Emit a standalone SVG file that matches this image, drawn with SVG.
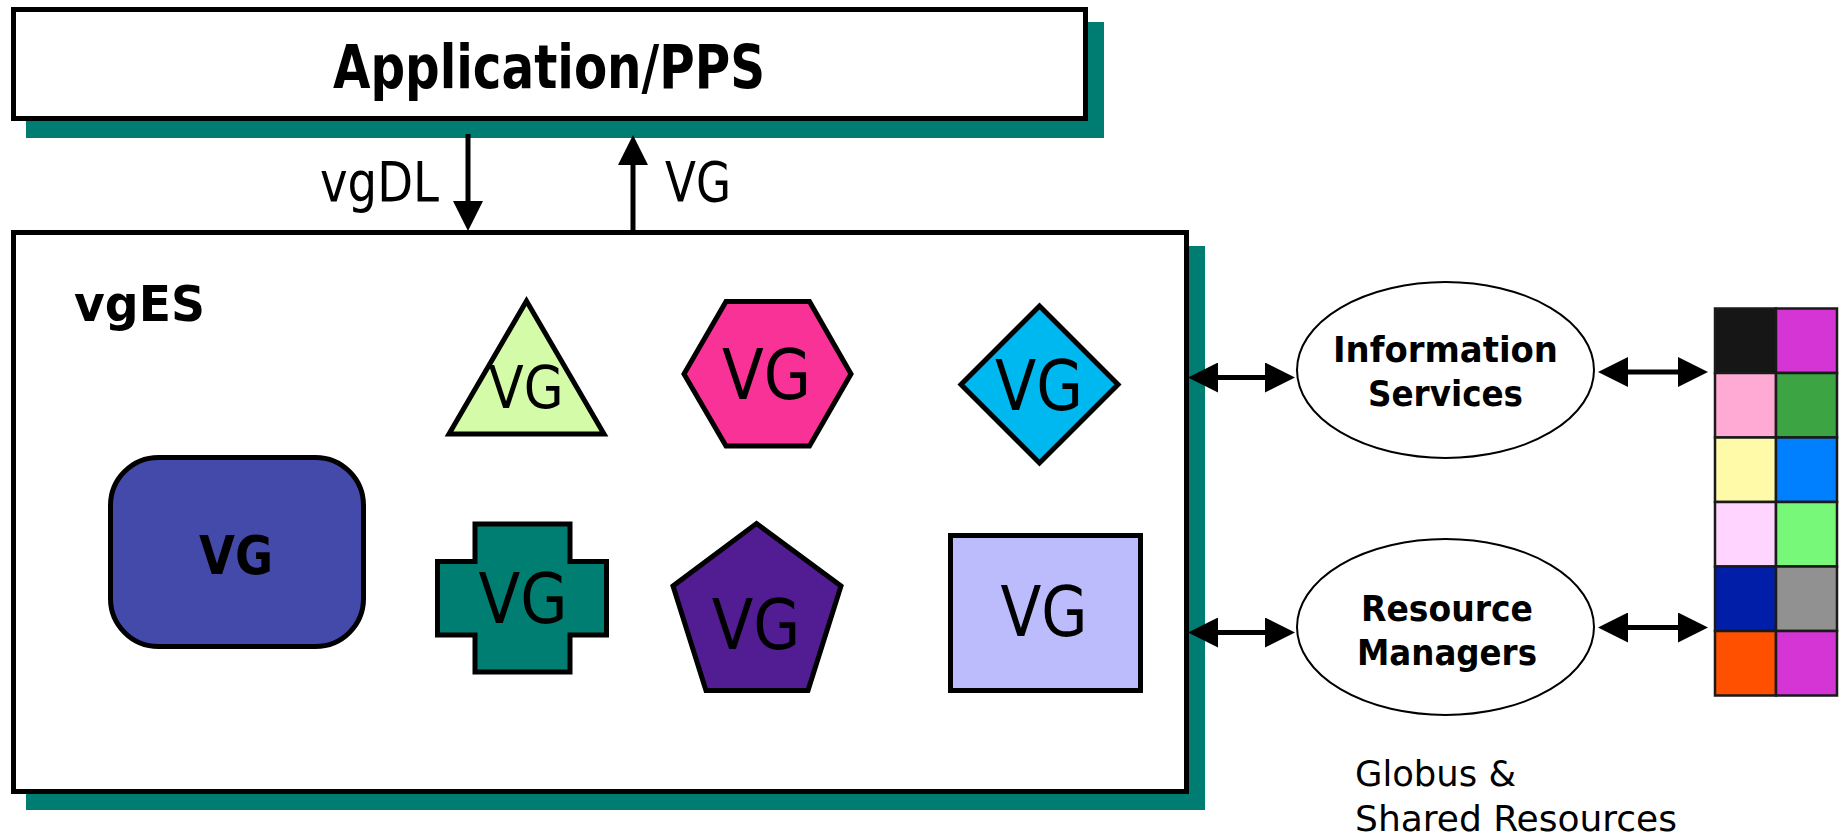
<svg xmlns="http://www.w3.org/2000/svg" width="1843" height="837" viewBox="0 0 1843 837">
  <style>
    .shadow { fill: #007d73; }
    .frame { fill: #ffffff; stroke: #000000; stroke-width: 5; }
    .shape { stroke: #000000; stroke-width: 5; stroke-linejoin: miter; }
    .oval { fill: #ffffff; stroke: #000000; stroke-width: 2; }
    .cell { stroke: #1a1a1a; stroke-width: 2.5; }
    .txt { font-family: "DejaVu Sans Condensed", "DejaVu Sans", sans-serif; font-stretch: condensed; fill: #000000; }
    .b { font-weight: bold; }
    .mid { text-anchor: middle; }
    .conn { stroke: #000000; stroke-width: 5; fill: none; }
  </style>
  <defs>
    <marker id="head" markerUnits="userSpaceOnUse" markerWidth="30" markerHeight="30" refX="10" refY="15" orient="auto-start-reverse">
      <path d="M0,0 L30,15 L0,30 Z" fill="#000000"/>
    </marker>
  </defs>

  <rect width="1843" height="837" fill="#ffffff"/>

  <!-- application layer -->
  <g id="app">
    <rect class="shadow" x="26" y="22" width="1078" height="116"/>
    <rect class="frame" x="13.5" y="9.5" width="1072" height="109"/>
    <text class="txt b mid" x="549" y="88" font-size="61" textLength="432" lengthAdjust="spacingAndGlyphs">Application/PPS</text>
  </g>

  <!-- execution system container -->
  <g id="vges">
    <rect class="shadow" x="26" y="246" width="1179" height="564"/>
    <rect class="frame" x="13.5" y="232.5" width="1173" height="559"/>
    <text class="txt b" x="74" y="320.5" font-size="50" textLength="131" lengthAdjust="spacingAndGlyphs">vgES</text>
  </g>

  <g id="vg-rounded">
    <rect class="shape" x="110.5" y="457.5" width="253" height="189" rx="48" ry="48" fill="#444aaa"/>
    <text class="txt b mid" x="236" y="573.5" font-size="53" textLength="74" lengthAdjust="spacingAndGlyphs">VG</text>
  </g>

  <g id="vg-triangle">
    <polygon class="shape" points="526.5,301 604,434 449,434" fill="#d4fca8"/>
    <text class="txt mid" x="526" y="408" font-size="58" textLength="75" lengthAdjust="spacingAndGlyphs">VG</text>
  </g>

  <g id="vg-hexagon">
    <polygon class="shape" points="684,374 726,301.5 809.5,301.5 851,374 809.5,446 726,446" fill="#f83296"/>
    <text class="txt mid" x="766.5" y="398.5" font-size="70" textLength="89" lengthAdjust="spacingAndGlyphs">VG</text>
  </g>

  <g id="vg-diamond">
    <polygon class="shape" points="1039.5,306 1118,384.5 1039.5,463 961,384.5" fill="#00b8f0"/>
    <text class="txt mid" x="1039" y="410" font-size="70" textLength="88" lengthAdjust="spacingAndGlyphs">VG</text>
  </g>

  <g id="vg-cross">
    <polygon class="shape" points="475,524 570,524 570,561.5 606.5,561.5 606.5,635 570,635 570,672 475,672 475,635 437.5,635 437.5,561.5 475,561.5" fill="#007e72"/>
    <text class="txt mid" x="523" y="623" font-size="70" textLength="89" lengthAdjust="spacingAndGlyphs">VG</text>
  </g>

  <g id="vg-pentagon">
    <polygon class="shape" points="756.5,523.5 841,586 808,690.5 706,690.5 673,586" fill="#521c92"/>
    <text class="txt mid" x="756" y="648.5" font-size="70" textLength="88.5" lengthAdjust="spacingAndGlyphs">VG</text>
  </g>

  <g id="vg-rect">
    <rect class="shape" x="950.5" y="535.5" width="190" height="155" fill="#bcbcfc"/>
    <text class="txt mid" x="1044" y="636" font-size="70" textLength="87" lengthAdjust="spacingAndGlyphs">VG</text>
  </g>

  <g id="info-services">
    <ellipse class="oval" cx="1445.5" cy="370" rx="148.5" ry="88"/>
    <text class="txt b mid" x="1445.5" y="362" font-size="36" textLength="225" lengthAdjust="spacingAndGlyphs">Information</text>
    <text class="txt b mid" x="1445.5" y="406" font-size="36" textLength="155" lengthAdjust="spacingAndGlyphs">Services</text>
  </g>

  <g id="resource-managers">
    <ellipse class="oval" cx="1445.5" cy="627" rx="148.5" ry="88"/>
    <text class="txt b mid" x="1447" y="620.5" font-size="36" textLength="172" lengthAdjust="spacingAndGlyphs">Resource</text>
    <text class="txt b mid" x="1447" y="665" font-size="36" textLength="180" lengthAdjust="spacingAndGlyphs">Managers</text>
  </g>

  <!-- shared resource pool -->
  <g id="resources">
    <rect class="cell" x="1715" y="308.5" width="61" height="64.5" fill="#161616"/>
    <rect class="cell" x="1776" y="308.5" width="61" height="64.5" fill="#d535d5"/>
    <rect class="cell" x="1715" y="373" width="61" height="64.5" fill="#ffaad4"/>
    <rect class="cell" x="1776" y="373" width="61" height="64.5" fill="#3ca443"/>
    <rect class="cell" x="1715" y="437.5" width="61" height="64.5" fill="#fffaa8"/>
    <rect class="cell" x="1776" y="437.5" width="61" height="64.5" fill="#0080ff"/>
    <rect class="cell" x="1715" y="502" width="61" height="64.5" fill="#ffd5ff"/>
    <rect class="cell" x="1776" y="502" width="61" height="64.5" fill="#78f878"/>
    <rect class="cell" x="1715" y="566.5" width="61" height="64.5" fill="#001ea8"/>
    <rect class="cell" x="1776" y="566.5" width="61" height="64.5" fill="#919191"/>
    <rect class="cell" x="1715" y="631" width="61" height="64.5" fill="#ff5000"/>
    <rect class="cell" x="1776" y="631" width="61" height="64.5" fill="#d535d5"/>
    <text class="txt" x="1355" y="786" font-size="36" textLength="161" lengthAdjust="spacingAndGlyphs">Globus &amp;</text>
    <text class="txt" x="1355" y="831" font-size="36" textLength="322" lengthAdjust="spacingAndGlyphs">Shared Resources</text>
  </g>

  <g id="connectors">
    <line class="conn" x1="468" y1="134" x2="468" y2="211" marker-end="url(#head)"/>
    <text class="txt" x="320" y="201" font-size="55" textLength="119" lengthAdjust="spacingAndGlyphs">vgDL</text>
    <line class="conn" x1="633" y1="231" x2="633" y2="155" marker-end="url(#head)"/>
    <text class="txt" x="665" y="201" font-size="55" textLength="66" lengthAdjust="spacingAndGlyphs">VG</text>
    <line class="conn" x1="1208" y1="377.5" x2="1275" y2="377.5" marker-start="url(#head)" marker-end="url(#head)"/>
    <line class="conn" x1="1208" y1="632.5" x2="1275" y2="632.5" marker-start="url(#head)" marker-end="url(#head)"/>
    <line class="conn" x1="1618" y1="372" x2="1688" y2="372" marker-start="url(#head)" marker-end="url(#head)"/>
    <line class="conn" x1="1618" y1="627.5" x2="1688" y2="627.5" marker-start="url(#head)" marker-end="url(#head)"/>
  </g>
</svg>
